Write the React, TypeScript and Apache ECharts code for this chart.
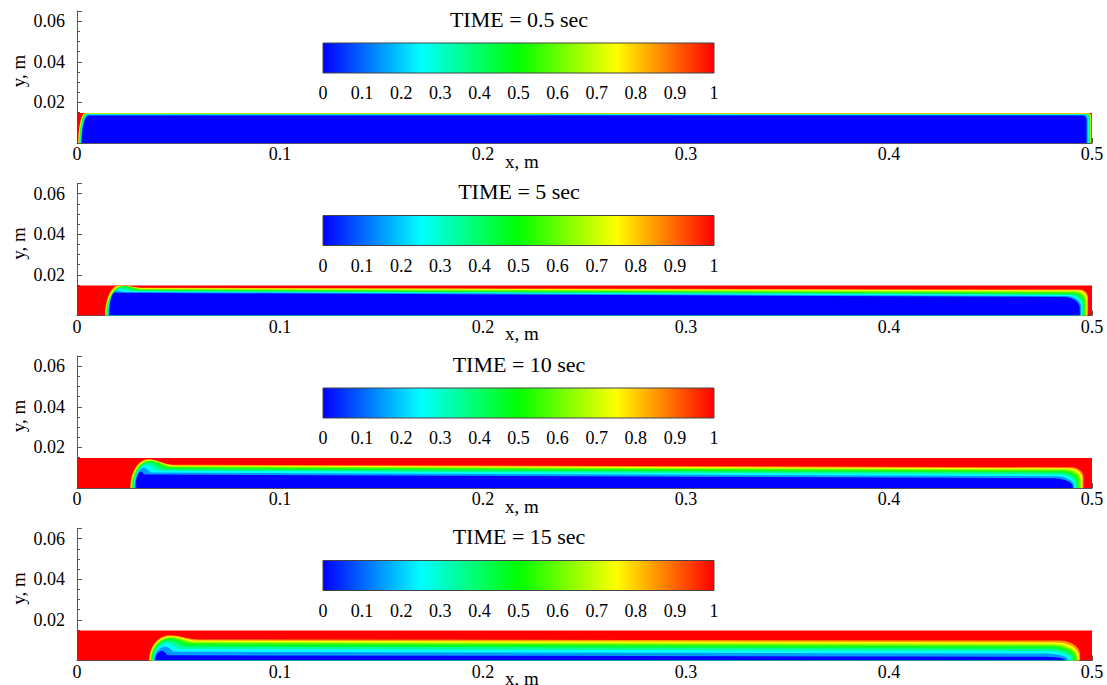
import React, { useEffect, useRef } from "react";
import * as echarts from "echarts";

// ---------- data ----------
const panelTimes = ["0.5", "5", "10", "15"];
const xTicks = [0, 0.1, 0.2, 0.3, 0.4, 0.5];
const yTickLabels = [0.02, 0.04, 0.06];
const cbTicks = [0, 0.1, 0.2, 0.3, 0.4, 0.5, 0.6, 0.7, 0.8, 0.9, 1];
const xMax = 0.5;
const yMax = 0.065;
// thickness of the heavy-fluid (red) layer in every panel
const layerTop = [0.0148, 0.0148, 0.0148, 0.0148];
// contour levels of the volume fraction, outermost first
const contourLevels = [0.9, 0.8, 0.7, 0.6, 0.5, 0.4, 0.3, 0.2, 0.1];

// Panel 1: TIME = 0.5 s
const xL1 = [0.0006, 0.0008, 0.001, 0.0012, 0.0014, 0.0016, 0.0018, 0.002, 0.0023];
const xR1 = [0.4997, 0.4995, 0.4993, 0.4991, 0.4989, 0.4986, 0.4983, 0.4979, 0.4973];
const yL1 = [0.0147, 0.0146, 0.0145, 0.0144, 0.0143, 0.0142, 0.0141, 0.0139, 0.0136];
const yR1 = [0.0146, 0.0145, 0.0144, 0.0143, 0.0142, 0.0141, 0.014, 0.0138, 0.0135];
const peakX1 = [0.004, 0.0042, 0.0044, 0.0046, 0.0048, 0.005, 0.0052, 0.0054, 0.0057];
const peakY1 = [0.0147, 0.0146, 0.0145, 0.0144, 0.0143, 0.0142, 0.0141, 0.0139, 0.0136];
const bumpW1 = [0, 0, 0, 0, 0, 0, 0, 0, 0];
const rxR1 = [0.001, 0.001, 0.0012, 0.0012, 0.0014, 0.0014, 0.0016, 0.0016, 0.0018];
const ryR1 = [0.0015, 0.0015, 0.0018, 0.0018, 0.002, 0.002, 0.0022, 0.0022, 0.0025];

// Panel 2: TIME = 5 s
const xL2 = [0.0138, 0.014, 0.0142, 0.0144, 0.0146, 0.0148, 0.0151, 0.0154, 0.0158];
const xR2 = [0.498, 0.4976, 0.4972, 0.4967, 0.4962, 0.4957, 0.4952, 0.4946, 0.494];
const yL2 = [0.0137, 0.0134, 0.0131, 0.0128, 0.0125, 0.0122, 0.0119, 0.0116, 0.0112];
const yR2 = [0.0128, 0.0124, 0.0119, 0.0114, 0.0109, 0.0105, 0.0101, 0.0096, 0.0091];
const peakX2 = [0.0205, 0.0215, 0.0222, 0.0228, 0.0228, 0.0225, 0.0215, 0.02, 0.0188];
const peakY2 = [0.0148, 0.0147, 0.0146, 0.0145, 0.0143, 0.0138, 0.013, 0.0122, 0.0114];
const bumpW2 = [0.012, 0.012, 0.011, 0.01, 0.009, 0.007, 0.005, 0.003, 0.001];
const rxR2 = [0.004, 0.0045, 0.005, 0.0055, 0.006, 0.0065, 0.007, 0.0075, 0.008];
const ryR2 = [0.004, 0.0042, 0.0044, 0.0046, 0.0048, 0.005, 0.0052, 0.0054, 0.0056];

// Panel 3: TIME = 10 s
const xL3 = [0.0262, 0.0265, 0.0268, 0.0271, 0.0274, 0.0277, 0.028, 0.0284, 0.0288];
const xR3 = [0.4958, 0.4952, 0.4946, 0.4939, 0.4932, 0.4926, 0.4919, 0.4912, 0.4905];
const yL3 = [0.0115, 0.0111, 0.0107, 0.0103, 0.0098, 0.0092, 0.0085, 0.0076, 0.0066];
const yR3 = [0.0102, 0.0097, 0.0092, 0.0087, 0.0081, 0.0075, 0.0067, 0.0058, 0.0048];
const peakX3 = [0.035, 0.0355, 0.0358, 0.036, 0.036, 0.0355, 0.0345, 0.033, 0.0315];
const peakY3 = [0.0142, 0.0139, 0.0136, 0.0134, 0.0131, 0.0124, 0.0114, 0.01, 0.008];
const bumpW3 = [0.012, 0.012, 0.012, 0.011, 0.01, 0.008, 0.006, 0.004, 0.002];
const rxR3 = [0.006, 0.0065, 0.007, 0.0075, 0.008, 0.0085, 0.009, 0.0095, 0.01];
const ryR3 = [0.005, 0.005, 0.0052, 0.0052, 0.0054, 0.0054, 0.0055, 0.005, 0.0042];

// Panel 4: TIME = 15 s
const xL4 = [0.0355, 0.0358, 0.0361, 0.0364, 0.0368, 0.0372, 0.0376, 0.038, 0.0385];
const xR4 = [0.4941, 0.4935, 0.4929, 0.4923, 0.4916, 0.4906, 0.4895, 0.4882, 0.4867];
const yL4 = [0.0104, 0.0098, 0.0092, 0.0086, 0.008, 0.0069, 0.0057, 0.0043, 0.0026];
const yR4 = [0.0098, 0.0089, 0.0081, 0.0074, 0.0068, 0.0058, 0.0047, 0.0034, 0.0018];
const peakX4 = [0.0455, 0.0458, 0.046, 0.046, 0.0458, 0.0452, 0.0445, 0.0435, 0.042];
const peakY4 = [0.0124, 0.012, 0.0116, 0.0111, 0.0106, 0.0097, 0.0085, 0.0068, 0.0048];
const bumpW4 = [0.014, 0.014, 0.013, 0.012, 0.011, 0.009, 0.007, 0.005, 0.003];
const rxR4 = [0.01, 0.011, 0.012, 0.012, 0.013, 0.013, 0.013, 0.012, 0.01];
const ryR4 = [0.007, 0.007, 0.007, 0.006, 0.006, 0.005, 0.004, 0.003, 0.0015];

const panels = [
  { xL: xL1, xR: xR1, yL: yL1, yR: yR1, pX: peakX1, pY: peakY1, bW: bumpW1, rxR: rxR1, ryR: ryR1 },
  { xL: xL2, xR: xR2, yL: yL2, yR: yR2, pX: peakX2, pY: peakY2, bW: bumpW2, rxR: rxR2, ryR: ryR2 },
  { xL: xL3, xR: xR3, yL: yL3, yR: yR3, pX: peakX3, pY: peakY3, bW: bumpW3, rxR: rxR3, ryR: ryR3 },
  { xL: xL4, xR: xR4, yL: yL4, yR: yR4, pX: peakX4, pY: peakY4, bW: bumpW4, rxR: rxR4, ryR: ryR4 },
];

// ---------- colour map ----------
const cmapStops: [number, number[]][] = [
  [0, [0, 0, 255]],
  [0.25, [0, 255, 255]],
  [0.5, [0, 255, 0]],
  [0.75, [255, 255, 0]],
  [1, [255, 0, 0]],
];
function cmap(v: number): string {
  const t = Math.max(0, Math.min(1, v));
  for (let i = 1; i < cmapStops.length; i++) {
    const [a, ca] = cmapStops[i - 1];
    const [b, cb] = cmapStops[i];
    if (t <= b) {
      const f = (t - a) / (b - a);
      const c = ca.map((q, k) => Math.round(q + (cb[k] - q) * f));
      return `rgb(${c[0]},${c[1]},${c[2]})`;
    }
  }
  return "rgb(255,0,0)";
}
const lowestLevel = Math.min(...contourLevels);
function bandColor(t: number): string {
  // colour of the band just inside contour t
  return t <= lowestLevel + 1e-9 ? cmap(0) : cmap(t - 0.05);
}

// ---------- layout ----------
const FONT = "'Liberation Serif', 'Times New Roman', serif";
const bottoms = [143, 315.5, 488, 660.5];
const gridLeft = 77;
const gridWidth = 1015;
const gridHeight = 132;
const cbLeft = 323;
const cbWidth = 391;

function fmtTick(v: number) {
  return String(+v.toFixed(2));
}

export default function App() {
  const ref = useRef<HTMLDivElement>(null);
  useEffect(() => {
    if (!ref.current) return;
    const chart = echarts.init(ref.current, undefined, { renderer: "svg" });

    const grids: any[] = [];
    const xAxes: any[] = [];
    const yAxes: any[] = [];
    const series: any[] = [];
    const graphics: any[] = [];

    panels.forEach((p, i) => {
      const b = bottoms[i];
      grids.push({ left: gridLeft, top: b - gridHeight, width: gridWidth, height: gridHeight });
      xAxes.push({
        gridIndex: i,
        type: "value",
        min: 0,
        max: xMax,
        interval: 0.1,
        axisLine: { show: true, lineStyle: { color: "#555", width: 1 } },
        axisTick: { show: true, inside: true, length: 5, lineStyle: { color: "#555" } },
        minorTick: { show: true, splitNumber: 5, length: 3, lineStyle: { color: "#555" } },
        splitLine: { show: false },
        minorSplitLine: { show: false },
        axisLabel: {
          margin: 2,
          color: "#000",
          fontFamily: FONT,
          fontSize: 18,
          formatter: (v: number) => (xTicks.some((t) => Math.abs(t - v) < 1e-9) ? fmtTick(v) : ""),
        },
      });
      yAxes.push({
        gridIndex: i,
        type: "value",
        min: 0,
        max: yMax,
        interval: 0.02,
        axisLine: { show: true, lineStyle: { color: "#555", width: 1 } },
        axisTick: { show: true, inside: true, length: 5, lineStyle: { color: "#555" } },
        minorTick: { show: true, splitNumber: 4, length: 3, lineStyle: { color: "#555" } },
        splitLine: { show: false },
        minorSplitLine: { show: false },
        axisLabel: {
          margin: 12,
          color: "#000",
          fontFamily: FONT,
          fontSize: 18,
          formatter: (v: number) =>
            yTickLabels.some((t) => Math.abs(t - v) < 1e-9) ? v.toFixed(2) : "",
        },
      });

      // red layer (background of the fluid domain)
      series.push({
        type: "custom",
        xAxisIndex: i,
        yAxisIndex: i,
        clip: true,
        silent: true,
        data: [[0, layerTop[i], xMax]],
        renderItem: (_params: any, api: any) => {
          const p0 = api.coord([api.value(0), api.value(1)]);
          const p1 = api.coord([api.value(2), 0]);
          return {
            type: "rect",
            shape: { x: p0[0], y: p0[1], width: p1[0] - p0[0], height: p1[1] - p0[1] },
            style: { fill: cmap(1) },
          };
        },
      });

      // nested contour bands
      const data = contourLevels.map((t, k) => [
        p.xL[k], 0, t, p.xR[k], p.yL[k], p.yR[k], p.pX[k], p.pY[k], p.bW[k], p.rxR[k], p.ryR[k],
      ]);
      series.push({
        type: "custom",
        xAxisIndex: i,
        yAxisIndex: i,
        clip: true,
        silent: true,
        data,
        renderItem: (_params: any, api: any) => {
          const xL = api.value(0);
          const t = api.value(2);
          const xR = api.value(3);
          const yL = api.value(4);
          const yR = api.value(5);
          const pX = api.value(6);
          const pY = api.value(7);
          const bW = api.value(8);
          const rxR = api.value(9);
          const ryR = api.value(10);
          const n = 24;
          const pts: number[][] = [];
          for (let j = 0; j <= n; j++) {
            const a = (j / n) * (Math.PI / 2);
            pts.push([pX - (pX - xL) * Math.cos(a), pY * Math.sin(a)]);
          }
          if (bW > 0) {
            for (let j = 1; j <= n; j++) {
              const f = j / n;
              const s = (1 - Math.cos(f * Math.PI)) / 2;
              pts.push([pX + bW * f, pY + (yL - pY) * s]);
            }
          }
          for (let j = 0; j <= n; j++) {
            const a = (j / n) * (Math.PI / 2);
            pts.push([xR - rxR + rxR * Math.sin(a), yR - ryR + ryR * Math.cos(a)]);
          }
          pts.push([xR, 0]);
          return {
            type: "polygon",
            shape: { points: pts.map((q) => api.coord(q)) },
            style: { fill: bandColor(t) },
          };
        },
      });

      // texts
      graphics.push({
        type: "text",
        x: 519,
        y: b - 124,
        style: {
          text: `TIME = ${panelTimes[i]} sec`,
          fontFamily: FONT,
          fontSize: 22,
          fill: "#000",
          textAlign: "center",
          textVerticalAlign: "middle",
        },
      });
      graphics.push({
        type: "text",
        x: 522,
        y: b + 18,
        style: {
          text: "x, m",
          fontFamily: FONT,
          fontSize: 19,
          fill: "#000",
          textAlign: "center",
          textVerticalAlign: "middle",
        },
      });
      graphics.push({
        type: "text",
        x: 18,
        y: b - 72,
        rotation: Math.PI / 2,
        style: {
          text: "y, m",
          fontFamily: FONT,
          fontSize: 19,
          fill: "#000",
          textAlign: "center",
          textVerticalAlign: "middle",
        },
      });
    });

    // colour bars
    panels.forEach((_p, i) => {
      const b = bottoms[i];
      const gi = panels.length + i;
      grids.push({ left: cbLeft, top: b - 100, width: cbWidth, height: 30 });
      xAxes.push({
        gridIndex: gi,
        type: "value",
        min: 0,
        max: 1,
        interval: 0.1,
        axisLine: { show: false },
        axisTick: { show: false },
        splitLine: { show: false },
        axisLabel: {
          margin: 11,
          color: "#000",
          fontFamily: FONT,
          fontSize: 18,
          formatter: (v: number) =>
            cbTicks.some((t) => Math.abs(t - v) < 1e-9) ? fmtTick(v) : "",
        },
      });
      yAxes.push({ gridIndex: gi, type: "value", min: 0, max: 1, show: false });
      series.push({
        type: "custom",
        xAxisIndex: gi,
        yAxisIndex: gi,
        silent: true,
        data: [[0, 0, 1, 1]],
        renderItem: (_params: any, api: any) => {
          const p0 = api.coord([api.value(0), api.value(3)]);
          const p1 = api.coord([api.value(2), api.value(1)]);
          return {
            type: "rect",
            shape: { x: p0[0], y: p0[1], width: p1[0] - p0[0], height: p1[1] - p0[1] },
            style: {
              fill: new echarts.graphic.LinearGradient(
                0,
                0,
                1,
                0,
                cmapStops.map(([o, c]) => ({ offset: o, color: `rgb(${c[0]},${c[1]},${c[2]})` }))
              ),
              stroke: "#444",
              lineWidth: 1,
            },
          };
        },
      });
    });

    chart.setOption({
      animation: false,
      backgroundColor: "#fff",
      grid: grids,
      xAxis: xAxes,
      yAxis: yAxes,
      series,
      graphic: graphics,
    });

    return () => chart.dispose();
  }, []);

  return (
    <div
      ref={ref}
      style={{ position: "fixed", left: 0, top: 0, width: 1107, height: 685, background: "#fff" }}
    />
  );
}
